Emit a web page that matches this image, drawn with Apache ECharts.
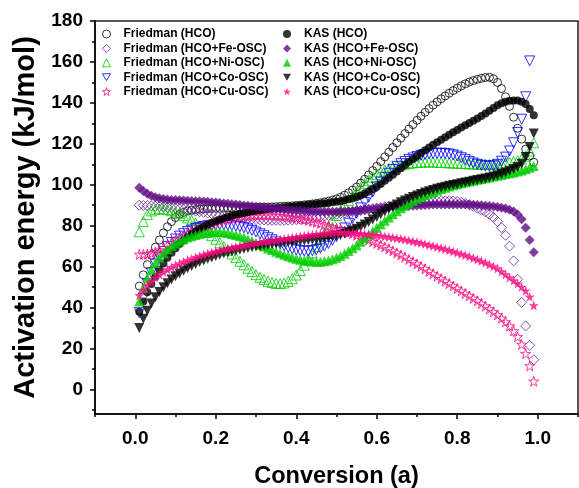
<!DOCTYPE html>
<html>
<head>
<meta charset="utf-8">
<script src="https://cdn.jsdelivr.net/npm/echarts@6/dist/echarts.min.js"></script>
<style>
  html, body { margin: 0; padding: 0; background: #fff; }
  #chart { width: 579px; height: 488px; }
</style>
</head>
<body>
<div id="chart"></div>
<script>
// Conversion degree (alpha)
const conversion = [
  0.01,0.02,0.03,0.04,0.05,0.06,0.07,0.08,0.09,0.10,
  0.11,0.12,0.13,0.14,0.15,0.16,0.17,0.18,0.19,0.20,
  0.21,0.22,0.23,0.24,0.25,0.26,0.27,0.28,0.29,0.30,
  0.31,0.32,0.33,0.34,0.35,0.36,0.37,0.38,0.39,0.40,
  0.41,0.42,0.43,0.44,0.45,0.46,0.47,0.48,0.49,0.50,
  0.51,0.52,0.53,0.54,0.55,0.56,0.57,0.58,0.59,0.60,
  0.61,0.62,0.63,0.64,0.65,0.66,0.67,0.68,0.69,0.70,
  0.71,0.72,0.73,0.74,0.75,0.76,0.77,0.78,0.79,0.80,
  0.81,0.82,0.83,0.84,0.85,0.86,0.87,0.88,0.89,0.90,
  0.91,0.92,0.93,0.94,0.95,0.96,0.97,0.98,0.99
];

// Activation energy, kJ/mol — Friedman method
const friedmanHCO = [
  50.5,56.0,61.0,65.5,69.5,73.0,76.5,79.5,82.0,84.0,
  85.5,86.5,87.2,87.6,87.9,88.1,88.2,88.3,88.4,88.5,
  88.5,88.6,88.6,88.7,88.7,88.8,88.8,88.9,88.9,89.0,
  89.0,89.1,89.1,89.2,89.3,89.4,89.5,89.6,89.7,89.9,
  90.0,90.2,90.4,90.6,90.9,91.2,91.6,92.0,92.5,93.1,
  93.9,94.9,96.1,97.4,98.9,100.8,102.7,104.8,106.9,109.0,
  111.3,113.6,115.9,118.2,120.5,122.8,125.0,127.2,129.4,131.5,
  133.5,135.4,137.2,138.9,140.5,142.0,143.4,144.7,146.0,147.2,
  148.3,149.3,150.2,150.9,151.5,152.0,152.4,152.5,151.8,150.0,
  147.0,143.0,138.3,133.0,127.6,122.3,117.4,114.0,111.0
];
const friedmanFe = [
  90.0,89.9,89.8,89.7,89.5,89.3,89.1,88.9,88.7,88.5,
  88.2,88.0,87.7,87.4,87.1,86.8,86.5,86.2,85.9,85.6,
  85.3,85.0,84.7,84.4,84.1,83.8,83.6,83.4,83.2,83.0,
  82.9,82.8,82.7,82.6,82.6,82.6,82.6,82.7,82.8,82.9,
  83.1,83.3,83.5,83.8,84.1,84.4,84.7,85.0,85.3,85.6,
  85.9,86.2,86.5,86.8,87.1,87.4,87.7,88.0,88.3,88.6,
  88.9,89.2,89.5,89.8,90.1,90.4,90.7,91.0,91.2,91.4,
  91.6,91.8,91.9,92.0,92.1,92.2,92.2,92.2,92.1,91.8,
  91.4,90.9,90.2,89.4,88.5,87.6,86.7,85.6,84.0,82.0,
  79.0,75.3,70.0,62.8,53.8,42.5,31.0,21.5,14.5
];
const friedmanNi = [
  77.0,82.0,85.5,87.2,88.0,88.2,88.1,87.8,87.3,86.7,
  85.9,84.9,83.8,82.6,81.3,79.9,78.4,76.8,75.1,73.4,
  71.6,69.8,68.0,66.2,64.4,62.6,60.9,59.2,57.6,56.1,
  54.8,53.7,52.8,52.2,51.8,51.7,52.0,52.8,54.1,55.9,
  58.1,60.7,63.6,66.7,69.9,73.1,76.3,79.4,82.3,85.0,
  87.6,90.0,92.3,94.5,96.6,98.6,100.5,102.2,103.7,105.0,
  106.1,107.1,107.9,108.6,109.2,109.7,110.1,110.4,110.7,110.9,
  111.0,111.1,111.1,111.1,111.0,110.9,110.8,110.7,110.6,110.5,
  110.4,110.3,110.2,110.1,110.0,110.0,110.0,110.0,110.1,110.2,
  110.4,110.6,110.9,111.3,111.8,112.6,114.0,116.5,120.5
];
const friedmanCo = [
  37.5,44.5,51.5,57.0,61.2,64.6,67.4,69.8,71.8,73.5,
  74.9,76.1,77.1,77.9,78.6,79.2,79.6,80.0,80.2,80.4,
  80.5,80.5,80.4,80.2,79.9,79.5,79.0,78.4,77.7,76.9,
  76.0,75.1,74.1,73.1,72.1,71.1,70.2,69.4,68.7,68.2,
  67.8,67.6,67.6,67.8,68.3,69.0,70.0,71.3,72.9,74.7,
  76.7,78.9,81.2,83.6,86.1,88.7,91.3,93.9,96.5,99.0,
  101.4,103.6,105.6,107.4,109.0,110.3,111.4,112.3,113.1,113.8,
  114.4,114.8,115.1,115.3,115.4,115.4,115.3,115.0,114.6,114.0,
  113.2,112.3,111.4,110.6,110.0,109.5,109.2,109.1,109.3,110.0,
  111.5,113.5,116.5,120.5,125.5,132.0,143.0,160.5
];
const friedmanCu = [
  66.0,66.0,66.1,66.5,67.2,68.1,69.2,70.4,71.6,72.8,
  74.0,75.1,76.1,77.1,78.0,78.8,79.6,80.3,81.0,81.6,
  82.2,82.7,83.2,83.6,84.0,84.3,84.6,84.8,85.0,85.1,
  85.2,85.2,85.2,85.1,85.0,84.8,84.6,84.4,84.1,83.8,
  83.4,83.0,82.6,82.1,81.6,81.1,80.5,79.9,79.3,78.7,
  78.1,77.4,76.7,76.0,75.3,74.6,73.8,73.0,72.2,71.4,
  70.5,69.6,68.7,67.7,66.7,65.7,64.6,63.5,62.4,61.3,
  60.1,58.9,57.7,56.5,55.3,54.1,52.9,51.7,50.5,49.3,
  48.1,46.9,45.7,44.5,43.3,42.0,40.7,39.3,37.9,36.4,
  34.8,33.0,31.0,28.6,25.7,22.0,17.5,11.5,4.0
];

// Activation energy, kJ/mol — KAS method
const kasHCO = [
  38.0,43.0,47.5,51.5,55.0,58.5,61.5,64.3,66.8,69.0,
  71.0,72.8,74.4,75.9,77.2,78.4,79.5,80.5,81.4,82.2,
  82.9,83.6,84.2,84.8,85.3,85.8,86.2,86.6,87.0,87.3,
  87.6,87.9,88.1,88.3,88.5,88.7,88.9,89.1,89.3,89.5,
  89.7,89.9,90.1,90.3,90.5,90.7,90.9,91.1,91.4,91.7,
  92.0,92.4,92.9,93.4,94.0,94.8,95.7,96.7,97.9,99.0,
  100.4,101.9,103.4,104.9,106.5,108.1,109.7,111.2,112.7,114.1,
  115.5,116.9,118.2,119.5,120.8,122.0,123.2,124.4,125.6,126.8,
  128.0,129.1,130.2,131.3,132.4,133.6,134.8,136.1,137.5,138.8,
  139.8,140.6,141.0,141.2,141.1,140.6,139.5,137.0,134.0
];
const kasFe = [
  98.5,97.0,95.6,94.6,93.9,93.4,93.0,92.8,92.6,92.5,
  92.4,92.3,92.2,92.1,92.0,91.9,91.8,91.7,91.5,91.3,
  91.1,90.9,90.7,90.5,90.3,90.1,89.9,89.7,89.5,89.3,
  89.1,88.9,88.7,88.5,88.3,88.1,87.9,87.7,87.5,87.4,
  87.3,87.2,87.1,87.0,86.9,86.8,86.8,86.8,86.8,86.8,
  86.9,87.0,87.1,87.2,87.4,87.6,87.8,88.0,88.2,88.4,
  88.6,88.8,89.0,89.2,89.3,89.5,89.6,89.7,89.8,89.9,
  90.0,90.1,90.2,90.3,90.3,90.4,90.4,90.4,90.4,90.4,
  90.4,90.3,90.3,90.2,90.1,90.0,89.8,89.6,89.4,89.1,
  88.8,88.4,87.8,86.9,85.5,83.2,79.0,73.0,67.0
];
const kasNi = [
  43.0,49.5,54.5,58.5,61.8,64.5,66.7,68.5,70.0,71.3,
  72.4,73.4,74.2,74.9,75.5,76.0,76.4,76.7,76.9,77.0,
  76.9,76.7,76.4,76.0,75.5,74.9,74.2,73.4,72.5,71.6,
  70.7,69.8,68.9,68.1,67.3,66.5,65.8,65.1,64.5,63.9,
  63.4,63.0,62.7,62.5,62.4,62.4,62.6,63.0,63.6,64.3,
  65.2,66.3,67.6,69.0,70.5,72.2,73.9,75.6,77.3,79.0,
  80.7,82.4,84.0,85.6,87.1,88.5,89.8,91.0,92.1,93.1,
  94.0,94.9,95.7,96.5,97.2,97.9,98.5,99.1,99.7,100.2,
  100.7,101.2,101.6,102.0,102.4,102.8,103.2,103.6,104.0,104.4,
  104.8,105.2,105.6,106.0,106.5,107.0,107.6,108.3,109.2
];
const kasCo = [
  30.0,34.5,38.5,42.0,45.0,47.6,49.9,51.9,53.7,55.3,
  56.7,58.0,59.2,60.3,61.3,62.2,63.0,63.8,64.5,65.2,
  65.8,66.4,66.9,67.4,67.9,68.3,68.7,69.1,69.5,69.8,
  70.1,70.4,70.7,71.0,71.2,71.5,71.7,72.0,72.2,72.4,
  72.6,72.8,73.0,73.2,73.4,73.6,73.9,74.2,74.6,75.0,
  75.5,76.1,76.8,77.6,78.5,79.5,80.6,81.8,83.0,84.3,
  85.6,86.9,88.1,89.3,90.4,91.4,92.3,93.2,94.0,94.8,
  95.5,96.2,96.8,97.4,98.0,98.5,99.0,99.5,99.9,100.3,
  100.7,101.1,101.5,101.9,102.3,102.7,103.1,103.5,104.0,104.6,
  105.3,106.0,106.8,107.7,108.7,110.2,113.5,118.5,125.0
];
const kasCu = [
  46.0,48.6,50.9,52.9,54.6,56.1,57.4,58.6,59.7,60.7,
  61.6,62.4,63.2,63.9,64.6,65.2,65.8,66.4,66.9,67.4,
  67.9,68.4,68.8,69.2,69.6,70.0,70.4,70.8,71.2,71.5,
  71.8,72.1,72.4,72.7,73.0,73.3,73.6,73.9,74.2,74.5,
  74.8,75.1,75.4,75.7,75.9,76.1,76.3,76.5,76.6,76.7,
  76.7,76.7,76.6,76.5,76.4,76.2,76.0,75.8,75.6,75.4,
  75.1,74.8,74.5,74.2,73.9,73.6,73.2,72.8,72.4,72.0,
  71.6,71.1,70.6,70.1,69.6,69.1,68.6,68.0,67.4,66.8,
  66.2,65.6,64.9,64.2,63.5,62.7,61.9,61.0,60.1,59.1,
  57.6,56.2,54.7,53.2,51.7,50.1,48.2,45.3,41.0
];

// Axis tick positions
const xTickLabels = [0, 0.2, 0.4, 0.6, 0.8, 1.0];
const xMinorTicks = [-0.1, 0.1, 0.3, 0.5, 0.7, 0.9, 1.1];
const yTickLabels = [0, 20, 40, 60, 80, 100, 120, 140, 160, 180];
const yMinorTicks = [-10, 10, 30, 50, 70, 90, 110, 130, 150, 170];

// Marker shapes
const STAR = 'path://M50,0L61.2,34.5L97.6,34.5L68.2,55.9L79.4,90.5L50,69.1L20.6,90.5L31.8,55.9L2.4,34.5L38.8,34.5Z';
const DOWN_TRIANGLE = 'path://M0,0L10,0L5,8.66Z';

const FONT = 'Liberation Sans';

const seriesDefs = [
  { name: 'Friedman (HCO)',        values: friedmanHCO, symbol: 'circle',      size: 8,  color: '#000000', open: true },
  { name: 'Friedman (HCO+Fe-OSC)', values: friedmanFe,  symbol: 'diamond',     size: 10, color: '#6E22A0', open: true },
  { name: 'Friedman (HCO+Ni-OSC)', values: friedmanNi,  symbol: 'triangle',    size: 10, color: '#00CC00', open: true },
  { name: 'Friedman (HCO+Co-OSC)', values: friedmanCo,  symbol: DOWN_TRIANGLE, size: 10, color: '#0000FF', open: true },
  { name: 'Friedman (HCO+Cu-OSC)', values: friedmanCu,  symbol: STAR,          size: 10, color: '#FF0A82', open: true },
  { name: 'KAS (HCO)',             values: kasHCO,      symbol: 'circle',      size: 8,  color: '#000000', open: false },
  { name: 'KAS (HCO+Fe-OSC)',      values: kasFe,       symbol: 'diamond',     size: 10, color: '#620C84', open: false },
  { name: 'KAS (HCO+Ni-OSC)',      values: kasNi,       symbol: 'triangle',    size: 10, color: '#00CC00', open: false },
  { name: 'KAS (HCO+Co-OSC)',      values: kasCo,       symbol: DOWN_TRIANGLE, size: 10, color: '#000000', open: false },
  { name: 'KAS (HCO+Cu-OSC)',      values: kasCu,       symbol: STAR,          size: 10, color: '#FF0A82', open: false }
];

const series = seriesDefs.map(d => ({
  name: d.name,
  type: 'scatter',
  xAxisIndex: 0,
  yAxisIndex: 0,
  symbol: d.symbol,
  symbolSize: d.size,
  data: d.values.map((v, i) => [conversion[i], v]),
  itemStyle: d.open
    ? { color: 'rgba(255,255,255,0)', borderColor: d.color, borderWidth: 1 }
    : { color: d.color, borderWidth: 0 },
  emphasis: { disabled: true },
  silent: true
}));

const legendText = {
  fontFamily: FONT, fontWeight: 'bold', fontSize: 12, color: '#000',
  lineHeight: 14, padding: [0, 0, 0, 8]
};
const legendCommon = {
  orient: 'vertical', top: 27, padding: 0,
  itemWidth: 8, itemHeight: 8, itemGap: 0.4,
  selectedMode: false, textStyle: legendText,
  itemStyle: { borderWidth: 1 }
};

const chart = echarts.init(document.getElementById('chart'), null, { renderer: 'canvas' });
chart.setOption({
  animation: false,
  backgroundColor: '#fff',
  grid: {
    left: 95, right: 1, top: 21, bottom: 74,
    containLabel: false, outerBoundsMode: 'none',
    show: true, borderColor: '#222', borderWidth: 1.5, backgroundColor: 'transparent'
  },
  legend: [
    Object.assign({ data: seriesDefs.slice(0, 5).map(d => d.name), left: 102 }, legendCommon),
    Object.assign({ data: seriesDefs.slice(5).map(d => d.name), left: 283 }, legendCommon)
  ],
  xAxis: [
    {
      type: 'value', min: -0.1, max: 1.1, position: 'bottom',
      name: 'Conversion (a)', nameLocation: 'middle', nameGap: 51,
      nameTextStyle: { fontFamily: FONT, fontWeight: 'bold', fontSize: 23.5, color: '#000' },
      axisLine: { show: true, onZero: false, lineStyle: { color: '#000', width: 1.5 } },
      axisTick: { show: true, inside: false, length: 5, lineStyle: { color: '#000', width: 1.5 }, customValues: xTickLabels },
      axisLabel: {
        show: true, margin: 15, customValues: xTickLabels,
        fontFamily: FONT, fontWeight: 'bold', fontSize: 19, color: '#000',
        formatter: v => v.toFixed(1)
      },
      splitLine: { show: false }
    },
    {
      type: 'value', min: -0.1, max: 1.1, position: 'bottom',
      axisLine: { show: false, onZero: false },
      axisTick: { show: true, inside: false, length: 3, lineStyle: { color: '#000', width: 1.5 }, customValues: xMinorTicks },
      axisLabel: { show: false },
      splitLine: { show: false }
    }
  ],
  yAxis: [
    {
      type: 'value', min: -12, max: 180, position: 'left',
      name: 'Activation energy (kJ/mol)', nameLocation: 'middle', nameGap: 55,
      nameTextStyle: { fontFamily: FONT, fontWeight: 'bold', fontSize: 29, color: '#000' },
      axisLine: { show: true, onZero: false, lineStyle: { color: '#000', width: 1.5 } },
      axisTick: { show: true, inside: false, length: 5, lineStyle: { color: '#000', width: 1.5 }, customValues: yTickLabels },
      axisLabel: {
        show: true, margin: 12, customValues: yTickLabels,
        fontFamily: FONT, fontWeight: 'bold', fontSize: 19, color: '#000'
      },
      splitLine: { show: false }
    },
    {
      type: 'value', min: -12, max: 180, position: 'left',
      axisLine: { show: false, onZero: false },
      axisTick: { show: true, inside: false, length: 3, lineStyle: { color: '#000', width: 1.5 }, customValues: yMinorTicks },
      axisLabel: { show: false },
      splitLine: { show: false }
    }
  ],
  series: series
});
</script>
</body>
</html>
